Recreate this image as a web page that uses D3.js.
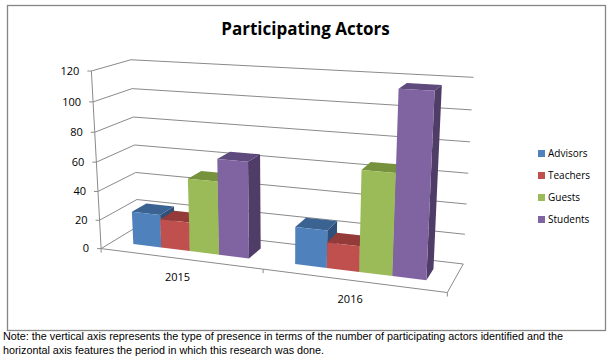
<!DOCTYPE html>
<html>
<head>
<meta charset="utf-8">
<script src="https://cdn.jsdelivr.net/npm/d3@7"></script>
<style>
  body { margin: 0; background: #fff; }
</style>
</head>
<body>
<div id="content"></div>
<script>
// chart data
categories = ['2015', '2016']
seriesNames = ['Advisors', 'Teachers', 'Guests', 'Students']
advisors = [23, 25]
teachers = [20, 17]
guests = [50, 66]
students = [65, 117]
yTicks = [0, 20, 40, 60, 80, 100, 120]
titleText = 'Participating Actors'
noteLines = ['Note: the vertical axis represents the type of presence in terms of the number of participating actors identified and the',
  'horizontal axis features the period in which this research was done.']

seriesValues = [advisors, teachers, guests, students]

// colours: front, top, side
frontColors = ['#4f81bd', '#c0504d', '#9bbb59', '#8064a2']
topColors = ['#3b6391', '#943b39', '#77923d', '#5f4a7d']
sideColors = ['#2f507a', '#7d302e', '#667f33', '#4f3d68']
gridColor = '#8a8a8a'

svgwidth = 613
svgheight = 363

// where the corners of the plot cube land on screen: [u, v, w] -> [x, y]
// u = across categories, v = value (0..1), w = depth (0 front, 1 back)
cubeCorners = [
  [[0, 0, 0], [101.7, 247.7]],
  [[0, 0.5, 0], [96, 162.3]],
  [[0, 1, 0], [91, 71.2]],
  [[0, 0, 1], [137.5, 227]],
  [[0, 1, 1], [131.5, 59.5]],
  [[0.5, 0, 0], [263.3, 269]],
  [[1, 0, 0], [447.3, 293.3]],
  [[1, 0, 1], [463.3, 263.3]],
  [[1, 0.5, 1], [468.3, 173.3]],
  [[1, 1, 1], [473.3, 77.3]]
]

// fit a perspective (3d -> 2d projective) transform to the corners, least squares
fitProjection = function(points) {
  var A = [], b = []
  points.forEach(function(p) {
    var u = p[0][0], v = p[0][1], w = p[0][2], x = p[1][0], y = p[1][1]
    A.push([u, v, w, 1, 0, 0, 0, 0, -x * u, -x * v, -x * w]); b.push(x)
    A.push([0, 0, 0, 0, u, v, w, 1, -y * u, -y * v, -y * w]); b.push(y)
  })
  var n = 11, M = [], r = []
  for (var i = 0; i < n; i++) {
    M.push([]); r.push(0)
    for (var j = 0; j < n; j++) {
      var s = 0
      for (var k = 0; k < A.length; k++) s += A[k][i] * A[k][j]
      M[i].push(s)
    }
    for (var k = 0; k < A.length; k++) r[i] += A[k][i] * b[k]
  }
  for (var c = 0; c < n; c++) {
    var piv = c
    for (var i = c + 1; i < n; i++) if (Math.abs(M[i][c]) > Math.abs(M[piv][c])) piv = i
    var t = M[c]; M[c] = M[piv]; M[piv] = t
    t = r[c]; r[c] = r[piv]; r[piv] = t
    for (var i = c + 1; i < n; i++) {
      var f = M[i][c] / M[c][c]
      for (var j = c; j < n; j++) M[i][j] -= f * M[c][j]
      r[i] -= f * r[c]
    }
  }
  var p = new Array(n)
  for (var i = n - 1; i >= 0; i--) {
    var s = r[i]
    for (var j = i + 1; j < n; j++) s -= M[i][j] * p[j]
    p[i] = s / M[i][i]
  }
  return p
}

P = fitProjection(cubeCorners)
project = function(u, v, w) {
  var d = P[8] * u + P[9] * v + P[10] * w + 1
  return [(P[0] * u + P[1] * v + P[2] * w + P[3]) / d, (P[4] * u + P[5] * v + P[6] * w + P[7]) / d]
}

// scales
xCat = d3.scaleBand().domain(categories).range([0, 1])
xSeries = d3.scaleBand().domain(seriesNames).range([0, xCat.bandwidth()]).paddingInner(0).paddingOuter(0.75)
yScale = d3.scaleLinear().domain([0, 120]).range([0, 1])
barFront = 0.3
barBack = 0.7

line = d3.line()

var svg = d3.select('#content').append('svg')
  .attr('width', svgwidth)
  .attr('height', svgheight)
  .style('font-family', "'Open Sans', sans-serif")

svg.append('rect')
  .attr('width', svgwidth).attr('height', svgheight)
  .attr('fill', '#fff')

// chart border
svg.append('rect')
  .attr('x', 7.5).attr('y', 5.5)
  .attr('width', 598).attr('height', 325)
  .attr('fill', 'none')
  .attr('stroke', '#868686')
  .attr('stroke-width', 1.3)

// title
svg.append('text')
  .attr('x', 305.5).attr('y', 35)
  .attr('text-anchor', 'middle')
  .style('font-size', '17px')
  .style('font-weight', 'bold')
  .attr('fill', '#000')
  .text(titleText)

// walls: gridlines on left wall and back wall
var grid = svg.append('g')
  .attr('fill', 'none')
  .attr('stroke', gridColor)
  .attr('stroke-width', 1)
yTicks.forEach(function(t) {
  var v = yScale(t)
  grid.append('path')
    .attr('d', line([project(0, v, 0), project(0, v, 1), project(1, v, 1)]))
})

// value axis line + ticks + labels
grid.append('path').attr('d', line([project(0, 0, 0), project(0, 1, 0)]))
yTicks.forEach(function(t) {
  var p = project(0, yScale(t), 0)
  grid.append('path').attr('d', line([[p[0] - 4, p[1]], p]))
  svg.append('text')
    .attr('x', p[0] - 12)
    .attr('y', p[1])
    .attr('dy', '0.35em')
    .attr('text-anchor', 'end')
    .attr('fill', '#000')
    .style('font-size', '11px')
    .text(t)
})

// floor: front edge and right edge
grid.append('path').attr('d', line([project(0, 0, 0), project(1, 0, 0), project(1, 0, 1)]))
// category ticks
var catEdges = [0].concat(categories.map(function(c) { return xCat(c) + xCat.bandwidth() }))
catEdges.forEach(function(u) {
  var p = project(u, 0, 0)
  grid.append('path').attr('d', line([p, [p[0], p[1] + 4]]))
})
categories.forEach(function(c) {
  var p = project(xCat(c) + xCat.bandwidth() / 2, 0, 0)
  svg.append('text')
    .attr('x', p[0] - 2)
    .attr('y', p[1] + 19)
    .attr('dy', '0.35em')
    .attr('text-anchor', 'middle')
    .attr('fill', '#000')
    .style('font-size', '11px')
    .text(c)
})

// bars, drawn left to right so nearer ones cover the hidden sides
var bars = svg.append('g')
categories.forEach(function(c, ci) {
  seriesNames.forEach(function(s, si) {
    var u0 = xCat(c) + xSeries(s)
    var u1 = u0 + xSeries.bandwidth()
    var v = yScale(seriesValues[si][ci])
    // right side
    bars.append('path')
      .attr('d', line([project(u1, 0, barFront), project(u1, 0, barBack), project(u1, v, barBack), project(u1, v, barFront)]) + 'Z')
      .attr('fill', sideColors[si])
    // top
    bars.append('path')
      .attr('d', line([project(u0, v, barFront), project(u1, v, barFront), project(u1, v, barBack), project(u0, v, barBack)]) + 'Z')
      .attr('fill', topColors[si])
    // front
    bars.append('path')
      .attr('d', line([project(u0, 0, barFront), project(u1, 0, barFront), project(u1, v, barFront), project(u0, v, barFront)]) + 'Z')
      .attr('fill', frontColors[si])
  })
})

// legend
var legendY = 153.5
seriesNames.forEach(function(s, i) {
  svg.append('rect')
    .attr('x', 538).attr('y', legendY + i * 22 - 3.5)
    .attr('width', 7).attr('height', 7)
    .attr('fill', frontColors[i])
  svg.append('text')
    .attr('x', 548).attr('y', legendY + i * 22)
    .attr('dy', '0.35em')
    .attr('fill', '#000')
    .style('font-size', '10px')
    .text(s)
})

// note below the chart
noteLines.forEach(function(t, i) {
  svg.append('text')
    .attr('x', 3).attr('y', 340 + i * 13.5)
    .attr('fill', '#000')
    .style('font-family', "'Liberation Sans', sans-serif")
    .style('font-size', '10.8px')
    .text(t)
})
</script>
</body>
</html>
